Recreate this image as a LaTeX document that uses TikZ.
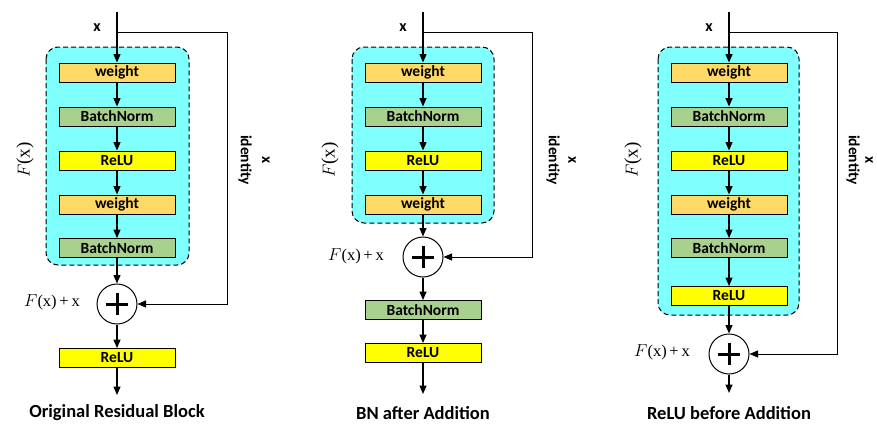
\documentclass[tikz,border=0pt]{standalone}
\usepackage{fontspec}
\setmainfont{Carlito}
\newfontfamily\tnr{Liberation Serif}
\usetikzlibrary{arrows.meta}
\definecolor{wcol}{HTML}{FFD966}
\definecolor{bncol}{HTML}{A9D18E}
\definecolor{rcol}{HTML}{FFFF00}
\definecolor{cy}{HTML}{80FFFF}
\begin{document}
\begin{tikzpicture}[x=1pt,y=-1pt,
 blk/.style={draw=black, line width=0.9pt, minimum width=116pt, minimum height=19pt, inner sep=0pt, font=\fontsize{15.5}{16}\selectfont\bfseries},
 wt/.style={blk, fill=wcol}, bnb/.style={blk, fill=bncol}, rlb/.style={blk, fill=rcol},
 arr/.style={line width=1.3pt, -{Triangle[length=8.5pt,width=7pt]}},
 idl/.style={line width=1pt},
 idarr/.style={line width=1pt, -{Triangle[length=8.5pt,width=7pt]}},
 addn/.style={circle, draw, line width=1pt, fill=white, minimum size=40pt, inner sep=0pt,
   path picture={\draw[line width=3pt] ([xshift=-11pt]path picture bounding box.center) -- ([xshift=11pt]path picture bounding box.center);
                 \draw[line width=3pt] ([yshift=-11pt]path picture bounding box.center) -- ([yshift=11pt]path picture bounding box.center);}},
 fbox/.style={draw, dash pattern=on 5pt off 3pt, line width=1pt, fill=cy, rounded corners=12pt},
 xlab/.style={font=\fontsize{16}{16}\selectfont\bfseries},
 idlab/.style={rotate=-90, inner sep=0pt, font=\fontsize{15.5}{16}\selectfont\bfseries},
 fxlab/.style={rotate=90, font=\tnr\fontsize{19}{19}\selectfont},
 sumlab/.style={font=\tnr\fontsize{16.5}{16.5}\selectfont},
 ttl/.style={font=\fontsize{18.5}{18.5}\selectfont\bfseries}
]
\useasboundingbox (0,0) rectangle (877,423);

% ---------- Panel 1 ----------
\draw[fbox] (46,47) rectangle (189,265);
\coordinate (a-in) at (117,12);
\coordinate (a-br) at (117,32);
\coordinate (a-rt) at (227,32);
\coordinate (a-out) at (117,395);
\node[wt]  (a-w1) at (117,72.5) {weight};
\node[bnb] (a-b1) at (117,116.5) {BatchNorm};
\node[rlb] (a-r1) at (117,160.5) {ReLU};
\node[wt]  (a-w2) at (117,204.5) {weight};
\node[bnb] (a-b2) at (117,248) {BatchNorm};
\node[addn] (a-add) at (117,304) {};
\node[rlb] (a-r2) at (117,358) {ReLU};
\draw[arr] (a-in) -- (a-w1);
\draw[arr] (a-w1) -- (a-b1);
\draw[arr] (a-b1) -- (a-r1);
\draw[arr] (a-r1) -- (a-w2);
\draw[arr] (a-w2) -- (a-b2);
\draw[arr] (a-b2) -- (a-add);
\draw[arr] (a-add) -- (a-r2);
\draw[arr] (a-r2) -- (a-out);
\draw[idl] (a-br) -- (a-rt);
\draw[idarr] (a-rt) |- (a-add);
\node[xlab] (a-x) at (97,28) {x};
\node[idlab] (a-id) at (245,160) {identity};
\node[idlab] (a-idx) at (266,160) {x};
\node[fxlab] (a-fx) at (25,160) {$F$(x)};
\node[sumlab] (a-sum) at (52,302) {$F$(x)\,+\,x};
\node[ttl] (a-t) at (117,413) {Original Residual Block};

% ---------- Panel 2 ----------
\draw[fbox] (352,47) rectangle (494,223);
\coordinate (b-in) at (423,12);
\coordinate (b-br) at (423,32);
\coordinate (b-rt) at (532,32);
\coordinate (b-out) at (423,394);
\node[wt]  (b-w1) at (423,72.5) {weight};
\node[bnb] (b-b1) at (423,116.5) {BatchNorm};
\node[rlb] (b-r1) at (423,160.5) {ReLU};
\node[wt]  (b-w2) at (423,204.5) {weight};
\node[addn] (b-add) at (423,257) {};
\node[bnb] (b-b2) at (423,310) {BatchNorm};
\node[rlb] (b-r2) at (423,353) {ReLU};
\draw[arr] (b-in) -- (b-w1);
\draw[arr] (b-w1) -- (b-b1);
\draw[arr] (b-b1) -- (b-r1);
\draw[arr] (b-r1) -- (b-w2);
\draw[arr] (b-w2) -- (b-add);
\draw[arr] (b-add) -- (b-b2);
\draw[arr] (b-b2) -- (b-r2);
\draw[arr] (b-r2) -- (b-out);
\draw[idl] (b-br) -- (b-rt);
\draw[idarr] (b-rt) |- (b-add);
\node[xlab] (b-x) at (403,28) {x};
\node[idlab] (b-id) at (553,160) {identity};
\node[idlab] (b-idx) at (572,160) {x};
\node[fxlab] (b-fx) at (330,160) {$F$(x)};
\node[sumlab] (b-sum) at (356,256) {$F$(x)\,+\,x};
\node[ttl] (b-t) at (423,413) {BN after Addition};

% ---------- Panel 3 ----------
\draw[fbox] (658,47) rectangle (799,315);
\coordinate (c-in) at (729,12);
\coordinate (c-br) at (729,32);
\coordinate (c-rt) at (837,32);
\coordinate (c-out) at (729,393);
\node[wt]  (c-w1) at (729,72.5) {weight};
\node[bnb] (c-b1) at (729,116.5) {BatchNorm};
\node[rlb] (c-r1) at (729,160.5) {ReLU};
\node[wt]  (c-w2) at (729,204.5) {weight};
\node[bnb] (c-b2) at (729,248) {BatchNorm};
\node[rlb] (c-r2) at (729,296) {ReLU};
\node[addn] (c-add) at (729,354) {};
\draw[arr] (c-in) -- (c-w1);
\draw[arr] (c-w1) -- (c-b1);
\draw[arr] (c-b1) -- (c-r1);
\draw[arr] (c-r1) -- (c-w2);
\draw[arr] (c-w2) -- (c-b2);
\draw[arr] (c-b2) -- (c-r2);
\draw[arr] (c-r2) -- (c-add);
\draw[arr] (c-add) -- (c-out);
\draw[idl] (c-br) -- (c-rt);
\draw[idarr] (c-rt) |- (c-add);
\node[xlab] (c-x) at (709,28) {x};
\node[idlab] (c-id) at (853,160) {identity};
\node[idlab] (c-idx) at (869,160) {x};
\node[fxlab] (c-fx) at (633,160) {$F$(x)};
\node[sumlab] (c-sum) at (662,352) {$F$(x)\,+\,x};
\node[ttl] (c-t) at (729,413) {ReLU before Addition};
\end{tikzpicture}
\end{document}
